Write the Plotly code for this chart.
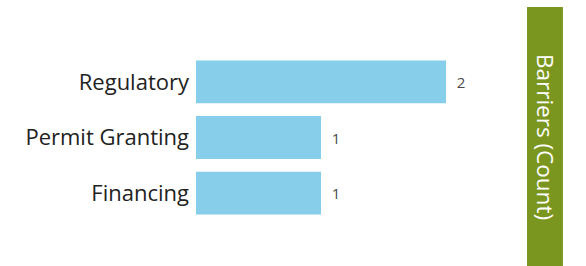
import plotly.graph_objects as go

categories = ["Regulatory", "Permit Granting", "Financing"]
counts = [2, 1, 1]
title_text = "Barriers (Count)"

bar_color = "#87CEEB"
band_color = "#7B961F"

fig = go.Figure(go.Bar(
    x=counts,
    y=categories,
    orientation="h",
    marker=dict(color=bar_color, line=dict(width=0)),
    text=counts,
    texttemplate="  %{text}",
    textposition="outside",
    textfont=dict(family="Open Sans, sans-serif", size=15, color="#4a4a4a"),
    cliponaxis=False,
))

fig.update_layout(
    width=586, height=266,
    margin=dict(l=196, r=65, t=54, b=45),
    paper_bgcolor="white", plot_bgcolor="white",
    bargap=0.23,
    showlegend=False,
    xaxis=dict(range=[0, 2.6], visible=False, fixedrange=True),
    yaxis=dict(autorange="reversed", showgrid=False, zeroline=False, showline=False,
               ticks="", ticklabelstandoff=6, fixedrange=True,
               tickfont=dict(family="Open Sans, sans-serif", size=22, color="#222222")),
    font=dict(family="Open Sans, sans-serif"),
    shapes=[dict(type="rect", xref="paper", yref="paper",
                 x0=1.0185, x1=1.129, y0=-0.3, y1=1.281,
                 fillcolor=band_color, line=dict(width=0), layer="below")],
    annotations=[dict(text=title_text, xref="paper", yref="paper",
                      x=1.074, y=0.503, xanchor="center", yanchor="middle",
                      showarrow=False, textangle=90,
                      font=dict(family="Open Sans, sans-serif", size=22.5, color="white"))],
)

fig.write_html("out.html", config={"displayModeBar": False})

with open("out.html", "r", encoding="utf-8") as f:
    html = f.read()
html = html.replace("<head>", "<head><style>html,body{margin:0;padding:0;overflow:hidden}</style>", 1)
with open("out.html", "w", encoding="utf-8") as f:
    f.write(html)
